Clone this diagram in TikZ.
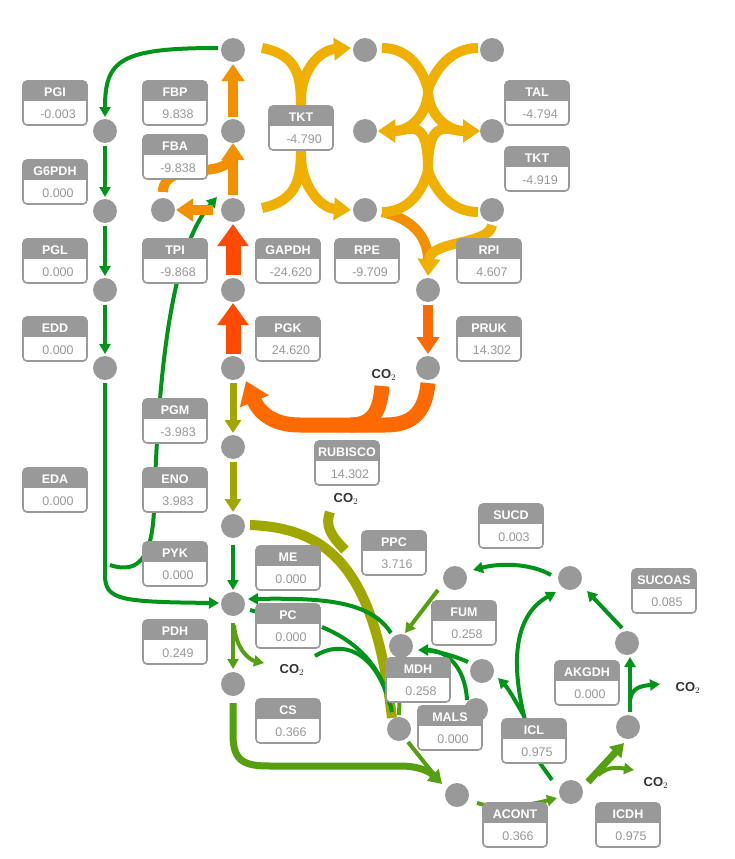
\documentclass[tikz,border=0pt]{standalone}
\usepackage{fontspec}
\setmainfont{Liberation Sans}
\usetikzlibrary{arrows.meta}
\definecolor{cg}{HTML}{009419}
\definecolor{clg}{HTML}{55A010}
\definecolor{col}{HTML}{A0A800}
\definecolor{cy}{HTML}{F0B000}
\definecolor{co}{HTML}{F39000}
\definecolor{cr}{HTML}{FF4A00}
\definecolor{cro}{HTML}{FF6A00}
\definecolor{lg}{HTML}{999999}
\tikzset{
 met/.style={circle,fill=lg,minimum size=24pt,inner sep=0},
 f1/.style={line width=4pt,-{Triangle[width=11pt,length=10pt]}},
 f2/.style={line width=7pt,-{Triangle[width=16pt,length=13pt]}},
 f3/.style={line width=10pt,-{Triangle[width=22pt,length=17pt]}},
 f4/.style={line width=15pt,-{Triangle[width=30pt,length=22pt]}},
 nf1/.style={line width=4pt},
 nf2/.style={line width=7pt},
 nf3/.style={line width=10pt},
 nf4/.style={line width=15pt},
 co2/.style={text=black!80,font=\fontsize{13}{13}\selectfont\bfseries},
}
\newcommand{\flx}[4]{%
 \fill[lg,rounded corners=4pt] (#1-32,#2-22) rectangle (#1+32,#2);
 \fill[white] (#1-31,#2-2) rectangle (#1+31,#2+21);
 \draw[lg,line width=1.6pt,rounded corners=4pt] (#1-32,#2-22) rectangle (#1+32,#2+22);
 \node[text=white,font=\fontsize{12.5}{12.5}\selectfont\bfseries] at (#1,#2-11) {#3};
 \node[text=lg,font=\fontsize{12.5}{12.5}\selectfont] at (#1+3,#2+11) {#4};
}
\begin{document}
\begin{tikzpicture}[x=1pt,y=-1pt]
\useasboundingbox (0,0) rectangle (734,859);
% coordinates
\coordinate (a1) at (233,50);
% ---- green left
\draw[cg,f1] (218,48) .. controls (120,48) and (105,60) .. (105,117);
\draw[cg,f1] (105,146) -- (105,197);
\draw[cg,f1] (105,226) -- (105,276);
\draw[cg,f1] (105,305) -- (105,354);
\draw[cg,f1] (105,383) -- (105,575) .. controls (105,600) and (120,602) .. (219,603);
\draw[cg,f1] (110,565) .. controls (140,575) and (152,555) .. (154,510) .. controls (158,380) and (170,250) .. (217,197);
% ---- upper glycolysis
\draw[co,f3] (233,117) -- (233,64);
\draw[co,f3] (233,195) -- (233,143);
\draw[co,nf3] (163,192) .. controls (163,175) and (180,172) .. (205,170) .. controls (228,168) and (233,160) .. (233,150);
\draw[co,f3] (213,210) -- (176,210);
\draw[cr,f4] (233,275) -- (233,224);
\draw[cr,f4] (233,354) -- (233,303);
\draw[col,f2] (233,383) -- (233,433);
\draw[col,f2] (233,462) -- (233,512);
% ---- rubisco / pruk
\draw[cro,f3] (428,305) -- (428,354);
\draw[cro,f4] (428,383) .. controls (425,415) and (410,425) .. (385,425) -- (300,425) .. controls (270,425) and (258,410) .. (246,381);
\draw[cro,nf4] (382,386) .. controls (380,415) and (370,425) .. (350,425);
% ---- RPI
\draw[co,nf3] (382,212) .. controls (410,218) and (428,235) .. (428,260);
\draw[cy,f3] (492,225) .. controls (490,245) and (430,240) .. (428,276);
% ---- TKT1
\draw[cy,f3] (262,48) .. controls (300,55) and (301,80) .. (301,110) -- (301,100) .. controls (301,70) and (320,50) .. (351,48);
\draw[cy,f3] (262,208) .. controls (300,200) and (301,175) .. (301,145) -- (301,155) .. controls (301,185) and (320,208) .. (351,210);
% ---- TAL / TKT2
\foreach \ya/\yb in {48/90,212/170}{
 \draw[cy,nf3] (382,\ya) .. controls (420,\ya) and (428,\yb) .. (428,\yb);
 \draw[cy,nf3] (478,\ya) .. controls (440,\ya) and (428,\yb) .. (428,\yb);
 \draw[cy,f3] (428,\yb) .. controls (428,115) and (410,131) .. (378,131);
 \draw[cy,f3] (428,\yb) .. controls (428,115) and (448,131) .. (480,131);
}
% ---- lower part
\draw[cg,f1] (233,545) -- (233,590);
\draw[col,nf3] (250,525) .. controls (330,528) and (375,570) .. (392,718);
\draw[col,nf3] (330,512) .. controls (325,525) and (330,535) .. (345,550);
\draw[cg,f1] (391,633) .. controls (370,600) and (320,598) .. (248,599);
\draw[cg,nf1] (322,627) .. controls (365,645) and (385,675) .. (392,712);
\draw[cg,nf1] (315,656) .. controls (340,640) and (375,648) .. (390,705);
\draw[cg,nf1] (250,610) -- (258,612);
\draw[clg,f1] (233,623) -- (233,669);
\draw[clg,f1] (234,625) .. controls (236,650) and (250,660) .. (264,663);
\draw[clg,f2] (233,703) -- (233,735) .. controls (233,762) and (245,766) .. (270,766) -- (400,766) .. controls (420,766) and (430,772) .. (442,784);
\draw[clg,f1] (408,742) -- (440,782);
\draw[clg,f1] (477,803) .. controls (500,810) and (530,805) .. (557,798);
\draw[clg,f2] (588,782) -- (624,743);
\draw[clg,f1] (598,775) .. controls (610,765) and (620,768) .. (634,770);
\draw[cg,f1] (630,712) -- (630,657);
\draw[cg,f1] (630,700) .. controls (632,688) and (640,686) .. (660,684);
\draw[cg,f1] (622,628) -- (587,591);
\draw[cg,f1] (551,575) .. controls (530,563) and (500,563) .. (473,570);
\draw[clg,f1] (438,590) -- (405,633);
\draw[cg,nf1] (552,780) -- (520,735);
\draw[cg,f1] (525,720) .. controls (510,660) and (515,615) .. (556,592);
\draw[cg,f1] (524,716) .. controls (515,700) and (508,688) .. (498,678);
\draw[cg,f1] (467,700) .. controls (465,665) and (445,650) .. (418,650);
\draw[cg,nf1] (468,662) .. controls (455,656) and (440,652) .. (425,650);
\draw[clg,nf1] (401,660) -- (399,715);
% ---- metabolites
\foreach \p in {(105,131),(105,211),(105,290),(105,368),(233,50),(233,131),(233,210),(233,290),(233,368),(233,447),(233,526),(233,604),(233,684),(163,210),(365,50),(365,131),(365,210),(492,50),(492,131),(492,210),(428,290),(428,368),(455,578),(570,578),(627,643),(628,727),(571,792),(457,795),(399,729),(401,646),(482,671),(476,710)}
 \node[met] at \p {};
% ---- labels
\flx{55}{103}{PGI}{-0.003}
\flx{55}{182}{G6PDH}{0.000}
\flx{55}{261}{PGL}{0.000}
\flx{55}{339}{EDD}{0.000}
\flx{55}{490}{EDA}{0.000}
\flx{175}{103}{FBP}{9.838}
\flx{175}{157}{FBA}{-9.838}
\flx{175}{261}{TPI}{-9.868}
\flx{175}{421}{PGM}{-3.983}
\flx{175}{490}{ENO}{3.983}
\flx{175}{564}{PYK}{0.000}
\flx{175}{642}{PDH}{0.249}
\flx{301}{128}{TKT}{-4.790}
\flx{537}{103}{TAL}{-4.794}
\flx{537}{169}{TKT}{-4.919}
\flx{288}{261}{GAPDH}{-24.620}
\flx{367}{261}{RPE}{-9.709}
\flx{489}{261}{RPI}{4.607}
\flx{288}{339}{PGK}{24.620}
\flx{489}{339}{PRUK}{14.302}
\flx{347}{463}{RUBISCO}{14.302}
\flx{288}{568}{ME}{0.000}
\flx{288}{626}{PC}{0.000}
\flx{288}{721}{CS}{0.366}
\flx{394}{553}{PPC}{3.716}
\flx{511}{526}{SUCD}{0.003}
\flx{664}{591}{SUCOAS}{0.085}
\flx{464}{623}{FUM}{0.258}
\flx{418}{680}{MDH}{0.258}
\flx{450}{728}{MALS}{0.000}
\flx{587}{683}{AKGDH}{0.000}
\flx{534}{741}{ICL}{0.975}
\flx{515}{825}{ACONT}{0.366}
\flx{628}{825}{ICDH}{0.975}
% ---- CO2
\node[co2] at (384,375) {CO$_2$};
\node[co2] at (346,499) {CO$_2$};
\node[co2] at (292,670) {CO$_2$};
\node[co2] at (688,688) {CO$_2$};
\node[co2] at (656,783) {CO$_2$};
\end{tikzpicture}
\end{document}
